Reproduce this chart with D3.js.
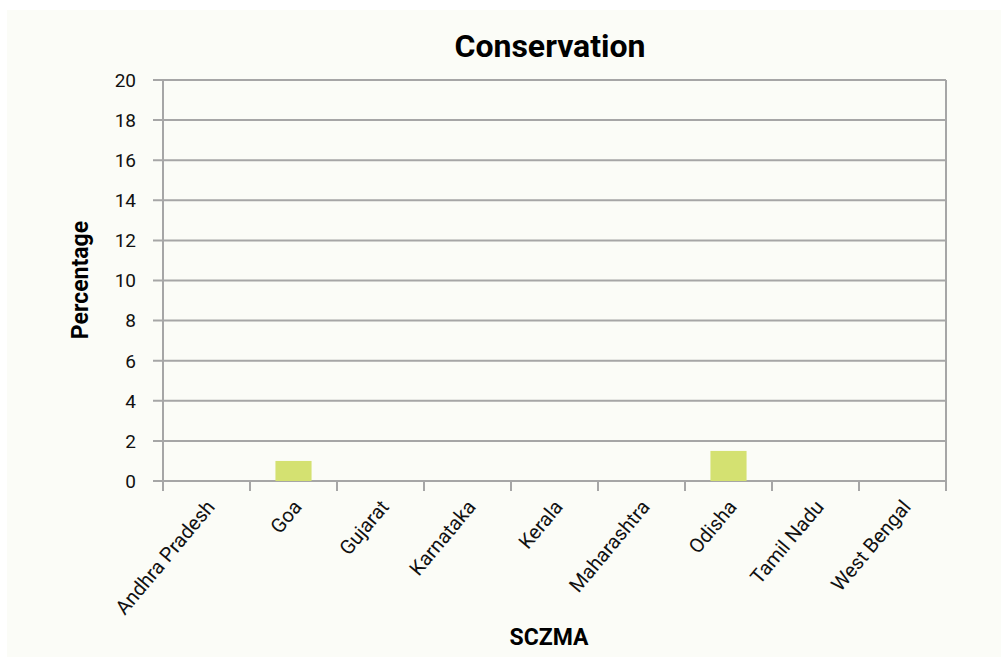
<!DOCTYPE html>
<html>
<head>
<meta charset="utf-8">
<script src="https://cdn.jsdelivr.net/npm/d3@7"></script>
<style>
  body { margin: 0; background: #ffffff; }
  text { font-family: Roboto, "DejaVu Sans", sans-serif; }
</style>
</head>
<body>
<div class="vis-barchart"></div>
<script>
const categories = ['Andhra Pradesh', 'Goa', 'Gujarat', 'Karnataka', 'Kerala', 'Maharashtra', 'Odisha', 'Tamil Nadu', 'West Bengal'];
const values = [0, 1, 0, 0, 0, 0, 1.5, 0, 0];
const yTicks = [0, 2, 4, 6, 8, 10, 12, 14, 16, 18, 20];

const W = 1001, H = 657;
const margin = {top: 80, right: 55, bottom: 176, left: 163};
const width = W - margin.left - margin.right;
const height = H - margin.top - margin.bottom;

const root = d3.select('.vis-barchart').append('svg')
    .attr('width', W)
    .attr('height', H);

root.append('rect')
    .attr('x', 7).attr('y', 10)
    .attr('width', W - 7).attr('height', H - 10)
    .attr('fill', '#fbfcf7');

root.append('text')
    .attr('x', 550).attr('y', 57)
    .attr('text-anchor', 'middle')
    .style('font-size', '32px')
    .style('font-weight', 'bold')
    .text('Conservation');

const svg = root.append('g')
    .attr('transform', 'translate(' + margin.left + ',' + margin.top + ')');

const x = d3.scaleBand()
    .domain(categories)
    .range([0, width])
    .paddingInner(0.585)
    .paddingOuter(0.2925);
const xEdge = d3.scaleLinear().domain([0, categories.length]).range([0, width]);
const y = d3.scaleLinear().domain([0, 20]).range([height, 0]);

// gridlines
svg.append('g')
    .selectAll('line')
    .data(yTicks)
    .enter().append('line')
    .attr('x1', -10).attr('x2', width)
    .attr('y1', d => y(d)).attr('y2', d => y(d))
    .attr('stroke', '#a6a6a6')
    .attr('stroke-width', 2);

// y tick labels
svg.append('g')
    .selectAll('text')
    .data(yTicks)
    .enter().append('text')
    .attr('x', -27)
    .attr('y', d => y(d))
    .attr('dy', '0.36em')
    .attr('text-anchor', 'end')
    .style('font-size', '19px')
    .attr('fill', '#111')
    .text(d => d);

// bars
svg.selectAll('.bar')
    .data(values)
    .enter().append('rect')
    .attr('class', 'bar')
    .attr('x', (d, i) => x(categories[i]))
    .attr('width', x.bandwidth())
    .attr('y', d => y(d))
    .attr('height', d => height - y(d))
    .attr('fill', '#d4e171');

// y axis line and right border
svg.append('line')
    .attr('x1', 0).attr('x2', 0)
    .attr('y1', 0).attr('y2', height + 10)
    .attr('stroke', '#a6a6a6').attr('stroke-width', 2);
svg.append('line')
    .attr('x1', width).attr('x2', width)
    .attr('y1', 0).attr('y2', height + 10)
    .attr('stroke', '#a6a6a6').attr('stroke-width', 2);

// x category ticks
svg.append('g')
    .selectAll('line')
    .data(d3.range(1, categories.length))
    .enter().append('line')
    .attr('x1', d => xEdge(d)).attr('x2', d => xEdge(d))
    .attr('y1', height).attr('y2', height + 10)
    .attr('stroke', '#a6a6a6').attr('stroke-width', 2);

// x labels
svg.append('g')
    .selectAll('text')
    .data(categories)
    .enter().append('text')
    .attr('transform', d => 'translate(' + (x(d) + x.bandwidth() / 2 + 4) + ',' + (height + 22) + ') rotate(-50)')
    .attr('text-anchor', 'end')
    .attr('dy', '0.35em')
    .style('font-size', '20px')
    .attr('fill', '#111')
    .text(d => d);

// axis titles
root.append('text')
    .attr('x', 549).attr('y', 645)
    .attr('text-anchor', 'middle')
    .style('font-size', '23px')
    .style('font-weight', 'bold')
    .text('SCZMA');

root.append('text')
    .attr('transform', 'translate(88,280) rotate(-90)')
    .attr('text-anchor', 'middle')
    .style('font-size', '23px')
    .style('font-weight', 'bold')
    .text('Percentage');
</script>
</body>
</html>
